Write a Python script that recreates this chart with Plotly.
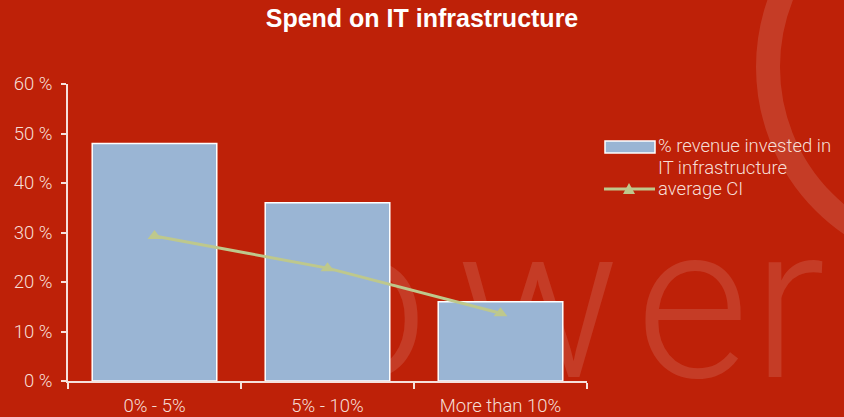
import base64
import plotly.graph_objects as go

# Chart data
categories = ["0% - 5%", "5% - 10%", "More than 10%"]
revenue_share = [48, 36, 16]
average_ci = [29.3, 22.8, 13.7]
y_ticks = [0, 10, 20, 30, 40, 50, 60]
y_tick_labels = [f"{v} %" for v in y_ticks]
bar_name = "% revenue invested in"
bar_name_2 = "IT infrastructure"
line_name = "average CI"

W, H = 844, 417
L, R, T, B = 68, 257, 84, 36
PW, PH = W - L - R, H - T - B

BG = "rgb(190,33,8)"
BAR = "rgb(154,181,212)"
LINE = "rgb(190,200,140)"
TXT = "rgb(246,222,214)"
AX = "rgb(246,225,220)"
FONT = "Roboto, Liberation Sans, Arial"


def px_x(px):
    return (px - L) / PW


def px_y(py):
    return (H - B - py) / PH


# Faint decorative background (brand watermark)
svg = f"""<svg xmlns='http://www.w3.org/2000/svg' width='{W}' height='{H}' viewBox='0 0 {W} {H}'>
<circle cx='959' cy='67' r='191' fill='none' stroke='white' stroke-opacity='0.12' stroke-width='24'/>
<text x='305 456 636 752' y='377' font-family='Roboto, sans-serif' font-weight='300' font-size='218'
 fill='white' fill-opacity='0.12'>ower</text>
</svg>"""
svg_uri = "data:image/svg+xml;base64," + base64.b64encode(svg.encode()).decode()

fig = go.Figure()
fig.add_trace(go.Bar(
    x=categories, y=revenue_share, name=bar_name + " " + bar_name_2,
    marker=dict(color=BAR, line=dict(color="white", width=1.5)),
    width=0.72, showlegend=False,
))
fig.add_trace(go.Scatter(
    x=categories, y=average_ci, name=line_name, mode="lines+markers",
    line=dict(color=LINE, width=3),
    marker=dict(symbol="triangle-up", size=12, color=LINE),
    showlegend=False,
))

# Legend drawn by hand so the swatches keep their wide proportions
shapes = [
    dict(type="rect", xref="paper", yref="paper",
         x0=px_x(605), x1=px_x(655), y0=px_y(153), y1=px_y(141),
         fillcolor=BAR, line=dict(color="white", width=1.5)),
    dict(type="line", xref="paper", yref="paper",
         x0=px_x(604), x1=px_x(655), y0=px_y(189), y1=px_y(189),
         line=dict(color=LINE, width=3)),
    dict(type="path", xref="paper", yref="paper",
         path=f"M {px_x(623)} {px_y(194)} L {px_x(635)} {px_y(194)} L {px_x(629)} {px_y(183)} Z",
         fillcolor=LINE, line=dict(color=LINE, width=0)),
]
legend_font = dict(size=18.5, color=TXT, family=FONT, weight=300)
annotations = [
    dict(text=bar_name, xref="paper", yref="paper", x=px_x(656), y=px_y(146),
         xanchor="left", yanchor="middle", align="left", showarrow=False, font=legend_font),
    dict(text=bar_name_2, xref="paper", yref="paper", x=px_x(656), y=px_y(168),
         xanchor="left", yanchor="middle", align="left", showarrow=False, font=legend_font),
    dict(text=line_name, xref="paper", yref="paper", x=px_x(656), y=px_y(189),
         xanchor="left", yanchor="middle", align="left", showarrow=False, font=legend_font),
]

tick_font = dict(size=18.5, color=TXT, family=FONT, weight=300)

fig.update_layout(
    width=W, height=H,
    margin=dict(l=L, r=R, t=T, b=B, autoexpand=False),
    paper_bgcolor=BG, plot_bgcolor="rgba(0,0,0,0)",
    title=dict(text="<b>Spend on IT infrastructure</b>", x=0.5, xanchor="center",
               xref="container", y=1 - 18 / H, yanchor="middle",
               font=dict(size=25, color="white", family="Liberation Sans, Arial")),
    font=dict(family=FONT, color=TXT, size=18),
    shapes=shapes,
    annotations=annotations,
    images=[dict(source=svg_uri, xref="paper", yref="paper",
                 x=px_x(0), y=px_y(0), sizex=W / PW, sizey=H / PH,
                 xanchor="left", yanchor="top", sizing="stretch", layer="below")],
    xaxis=dict(showgrid=False, zeroline=False, showline=True, linecolor=AX,
               linewidth=1.5, ticks="outside", tickson="boundaries", ticklen=6,
               tickcolor=AX, tickwidth=1.5, ticklabelstandoff=7,
               tickfont=tick_font, automargin=False, fixedrange=True),
    yaxis=dict(range=[0, 60], tickmode="array", tickvals=y_ticks, ticktext=y_tick_labels,
               showgrid=False, zeroline=False, showline=True, linecolor=AX, linewidth=1.5,
               ticks="outside", ticklen=5, tickcolor=AX, tickwidth=1.5,
               ticklabelstandoff=5, tickfont=tick_font, automargin=False, fixedrange=True),
    showlegend=False,
)

fig.write_html("out.html", config={"displayModeBar": False})
